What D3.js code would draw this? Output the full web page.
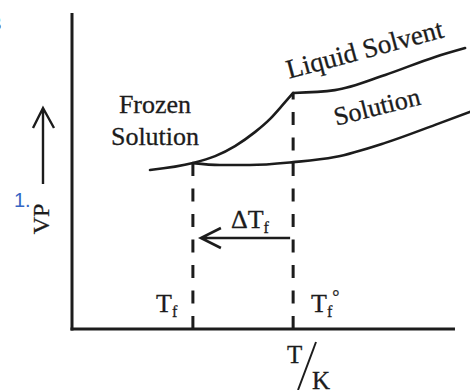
<!DOCTYPE html>
<html>
<head>
<meta charset="utf-8">
<script src="https://cdn.jsdelivr.net/npm/d3@7"></script>
<style>
  body { margin: 0; background: #fff; }
  svg { display: block; }
  text { font-family: "Liberation Serif", "DejaVu Serif", serif; fill: #1c1c1c; stroke: #1c1c1c; stroke-width: 0.3px; }
</style>
</head>
<body>
<svg id="chart" width="470" height="390"></svg>
<script>
// curve data (T and VP in arbitrary units)
const frozenT = [2.0, 3.1, 3.67, 4.18, 4.69, 5.08, 5.38, 5.67];
const frozenVP = [5.03, 5.25, 5.47, 5.79, 6.23, 6.65, 7.06, 7.47];
const liquidT = [5.67, 6.74, 8.03, 9.31, 10.08];
const liquidVP = [7.47, 7.56, 8.04, 8.61, 8.89];
const solutionT = [3.1, 3.79, 4.56, 5.67, 6.74, 8.03, 9.31, 10.2];
const solutionVP = [5.25, 5.19, 5.19, 5.28, 5.44, 5.89, 6.46, 6.87];
// freezing points: Tf (solution) and Tf° (pure solvent)
const freezeT = [3.1, 5.67];
const freezeVP = [5.25, 7.47];
const axisMaxT = 9.82;
const axisMaxVP = 10;
const deltaArrowVP = 2.88;

const svg = d3.select("#chart");
const x = d3.scaleLinear().domain([0, 10]).range([72, 462]);
const y = d3.scaleLinear().domain([0, 10]).range([329, 13]);

const zip = (a, b) => a.map((d, i) => [d, b[i]]);
const line = d3.line()
    .x(d => x(d[0]))
    .y(d => y(d[1]))
    .curve(d3.curveMonotoneX);

// curves
[[frozenT, frozenVP], [liquidT, liquidVP], [solutionT, solutionVP]].forEach(([t, vp]) => {
    svg.append("path")
       .attr("d", line(zip(t, vp)))
       .attr("fill", "none")
       .attr("stroke", "#1c1c1c")
       .attr("stroke-width", 2.6)
       .attr("stroke-linecap", "round");
});

// dashed verticals at the freezing points
svg.selectAll(".drop")
   .data(zip(freezeT, freezeVP))
   .enter().append("line")
   .attr("class", "drop")
   .attr("x1", d => x(d[0])).attr("x2", d => x(d[0]))
   .attr("y1", y(0)).attr("y2", d => y(d[1]))
   .attr("stroke", "#1c1c1c")
   .attr("stroke-width", 3)
   .attr("stroke-dasharray", "13,12.5");

// axes
svg.append("line")
   .attr("x1", x(0)).attr("x2", x(0))
   .attr("y1", y(0) + 1.5).attr("y2", y(axisMaxVP))
   .attr("stroke", "#1c1c1c").attr("stroke-width", 3);
svg.append("line")
   .attr("x1", x(0) - 1.5).attr("x2", x(axisMaxT))
   .attr("y1", y(0)).attr("y2", y(0))
   .attr("stroke", "#1c1c1c").attr("stroke-width", 3);

// delta Tf arrow
const ax0 = x(freezeT[1]) - 3, ax1 = x(freezeT[0]) + 8, ay = y(deltaArrowVP);
svg.append("path")
   .attr("d", `M${ax0},${ay}H${ax1}M${ax1 + 20},${ay - 10}L${ax1},${ay}L${ax1 + 20},${ay + 10}`)
   .attr("fill", "none").attr("stroke", "#1c1c1c").attr("stroke-width", 2.6);

const dt = svg.append("text")
   .attr("x", 231).attr("y", 228)
   .style("font-size", "26px");
dt.append("tspan").text("\u0394T");
dt.append("tspan").attr("dy", 5).style("font-size", "16px").text("f");

// VP arrow on the left
svg.append("path")
   .attr("d", "M43,184V108M33,128L43,108L54,128")
   .attr("fill", "none").attr("stroke", "#1c1c1c").attr("stroke-width", 2.4);

svg.append("text")
   .attr("transform", "translate(49,219) rotate(-90)")
   .attr("text-anchor", "middle")
   .style("font-size", "24px")
   .text("VP");

svg.append("text")
   .attr("x", 14).attr("y", 207)
   .style("font-size", "20px")
   .style("font-family", "'Liberation Sans', sans-serif")
   .style("fill", "#3566c4").style("stroke", "none")
   .text("1.");

svg.append("text")
   .attr("x", -8).attr("y", 30)
   .style("font-size", "18px")
   .text("3");

// curve labels
svg.append("text").attr("x", 155).attr("y", 113).attr("text-anchor", "middle")
   .style("font-size", "26px").text("Frozen");
svg.append("text").attr("x", 155).attr("y", 145).attr("text-anchor", "middle")
   .style("font-size", "26px").text("Solution");
svg.append("text").attr("transform", "translate(367,58) rotate(-15)")
   .attr("text-anchor", "middle").style("font-size", "27px").text("Liquid Solvent");
svg.append("text").attr("transform", "translate(379,115) rotate(-14)")
   .attr("text-anchor", "middle").style("font-size", "26px").text("Solution");

// freezing point labels
const tf = svg.append("text").attr("x", 156).attr("y", 312).style("font-size", "26px");
tf.append("tspan").text("T");
tf.append("tspan").attr("dy", 5).style("font-size", "16px").text("f");

const tf0 = svg.append("text").attr("x", 311).attr("y", 312).style("font-size", "26px");
tf0.append("tspan").text("T");
tf0.append("tspan").attr("dy", 5).style("font-size", "16px").text("f");
tf0.append("tspan").attr("dy", -14).style("font-size", "18px").text("\u00b0");

// x axis label T/K
svg.append("text").attr("x", 287).attr("y", 363).style("font-size", "25px").text("T");
svg.append("line").attr("x1", 316).attr("y1", 342).attr("x2", 298).attr("y2", 390)
   .attr("stroke", "#1c1c1c").attr("stroke-width", 2);
svg.append("text").attr("x", 312).attr("y", 389).style("font-size", "25px").text("K");
</script>
</body>
</html>
